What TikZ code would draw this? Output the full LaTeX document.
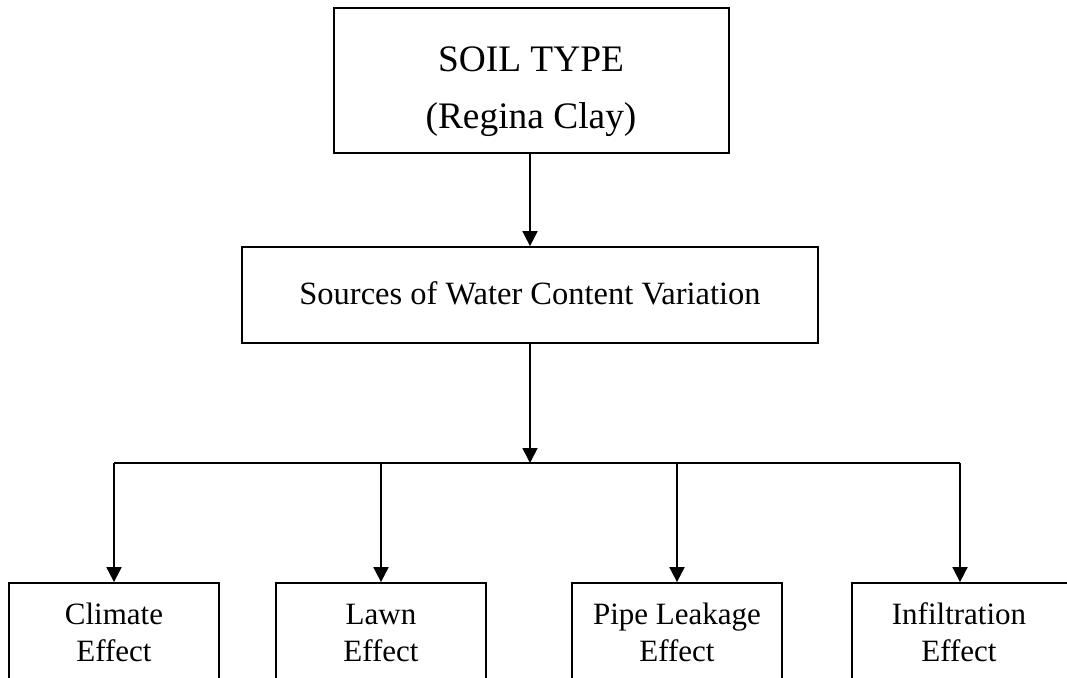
\documentclass[tikz,border=0pt]{standalone}
\usepackage{fontspec}
\setmainfont{Liberation Serif}
\usetikzlibrary{arrows.meta}
\begin{document}
\begin{tikzpicture}[x=1pt,y=-1pt,
  box/.style={draw=black,line width=1.8pt,fill=white,inner sep=0pt},
  bigtext/.style={font=\fontsize{37.4}{44}\selectfont,anchor=base,inner sep=0pt},
  midtext/.style={font=\fontsize{32.5}{38}\selectfont,anchor=base,inner sep=0pt},
  smalltext/.style={font=\fontsize{31}{37}\selectfont,anchor=base,inner sep=0pt},
  link/.style={line width=1.8pt,-{Triangle[width=15pt,length=15pt]}},
  wire/.style={line width=1.8pt}]
\useasboundingbox (0,0) rectangle (1067,677);
\clip (0,0) rectangle (1067,677);

% boxes
\node[box,minimum width=395pt,minimum height=145pt] (top) at (531.5,80.5) {};
\node[box,minimum width=576pt,minimum height=96pt] (mid) at (530,295) {};
\node[box,minimum width=210pt,minimum height=160pt] (b1) at (114,663) {};
\node[box,minimum width=210pt,minimum height=160pt] (b2) at (381,663) {};
\node[box,minimum width=210pt,minimum height=160pt] (b3) at (677,663) {};
\node[box,minimum width=216pt,minimum height=160pt] (b4) at (960,663) {};

% box labels, placed on their baselines
\node[bigtext] (topa) at (531,71) {SOIL TYPE};
\node[bigtext] (topb) at (531,128) {(Regina Clay)};
\node[midtext] (mida) at (530,304) {Sources of Water Content Variation};
\node[smalltext] (t1a) at (114,624) {Climate};
\node[smalltext] (t1b) at (114,661) {Effect};
\node[smalltext] (t2a) at (381,624) {Lawn};
\node[smalltext] (t2b) at (381,661) {Effect};
\node[smalltext] (t3a) at (677,624) {Pipe Leakage};
\node[smalltext] (t3b) at (677,661) {Effect};
\node[smalltext] (t4a) at (959,624) {Infiltration};
\node[smalltext] (t4b) at (959,661) {Effect};

% connectors
\coordinate (split) at (530,463);
\draw[link] (top.south -| mid.north) -- (mid.north);
\draw[link] (mid.south) -- (split);
\draw[wire] (split -| b1.north) -- (split -| b4.north);
\draw[link] (split -| b1.north) -- (b1.north);
\draw[link] (split -| b2.north) -- (b2.north);
\draw[link] (split -| b3.north) -- (b3.north);
\draw[link] (split -| b4.north) -- (b4.north);
\end{tikzpicture}
\end{document}
